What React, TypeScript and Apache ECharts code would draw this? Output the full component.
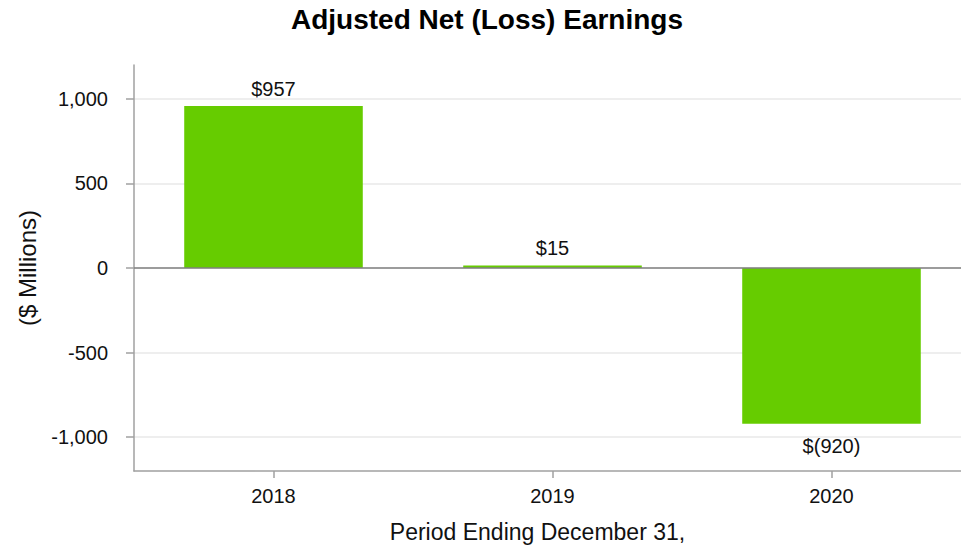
import React, { useEffect, useRef } from "react";
import * as echarts from "echarts";

const categories = ["2018", "2019", "2020"];
const values = [957, 15, -920];
const yTicks = [-1000, -500, 0, 500, 1000];

const FONT = "'Liberation Sans', Arial, sans-serif";

function fmtLabel(v: number): string {
  return v >= 0 ? `$${v}` : `$(${-v})`;
}

export default function App() {
  const ref = useRef<HTMLDivElement>(null);
  useEffect(() => {
    if (!ref.current) return;
    const chart = echarts.init(ref.current, undefined, { renderer: "svg" });
    chart.setOption({
      animation: false,
      backgroundColor: "#ffffff",
      textStyle: { fontFamily: FONT },
      title: {
        text: "Adjusted Net (Loss) Earnings",
        left: 487,
        textAlign: "center",
        top: 5,
        padding: 0,
        textStyle: { fontFamily: FONT, fontSize: 28, fontWeight: "bold", color: "#000" },
      },
      grid: { left: 134, right: -10, top: 65, bottom: 79, outerBoundsMode: "none", containLabel: false },
      xAxis: {
        type: "category",
        data: categories,
        position: "bottom",
        axisLine: { onZero: false, lineStyle: { color: "#a0a0a0", width: 1.5 } },
        axisTick: { show: true, alignWithLabel: true, length: 7, lineStyle: { color: "#a0a0a0", width: 1.5 } },
        axisLabel: { fontFamily: FONT, fontSize: 20, color: "#111", margin: 15 },
        splitLine: { show: false },
        name: "Period Ending December 31,",
        nameLocation: "middle",
        nameGap: 49,
        nameTextStyle: { fontFamily: FONT, fontSize: 23, color: "#111", padding: [0, 30, 0, 0] },
      },
      yAxis: {
        type: "value",
        min: -1200,
        max: 1200,
        axisLine: { show: true, lineStyle: { color: "#a0a0a0", width: 1.5 } },
        axisTick: { show: true, length: 8, customValues: yTicks, lineStyle: { color: "#a0a0a0", width: 1.5 } },
        axisLabel: {
          fontFamily: FONT,
          fontSize: 20,
          color: "#111",
          margin: 26,
          customValues: yTicks,
          formatter: (v: number) => v.toLocaleString("en-US"),
        },
        splitLine: { show: true, customValues: yTicks, lineStyle: { color: "#e8e8e8", width: 1.5 } },
        name: "($ Millions)",
        nameLocation: "middle",
        nameGap: 95,
        nameRotate: 90,
        nameTextStyle: { fontFamily: FONT, fontSize: 24, color: "#111" },
      },
      series: [
        {
          type: "bar",
          data: values.map((v) => ({
            value: v,
            label: {
              position: v >= 0 ? "top" : "bottom",
              distance: v >= 0 ? 7 : 12,
            },
          })),
          barWidth: "64%",
          itemStyle: { color: "#66cc00" },
          z: 2,
          label: {
            show: true,
            fontFamily: FONT,
            fontSize: 20,
            color: "#111",
            formatter: (p: any) => fmtLabel(p.value),
          },
          markLine: {
            silent: true,
            symbol: "none",
            label: { show: false },
            lineStyle: { color: "#808080", width: 1.5, type: "solid" },
            data: [{ yAxis: 0 }],
          },
        },
      ],
    });
    return () => chart.dispose();
  }, []);
  return (
    <div
      ref={ref}
      style={{ position: "fixed", left: 0, top: 0, width: 961, height: 550 }}
    />
  );
}
